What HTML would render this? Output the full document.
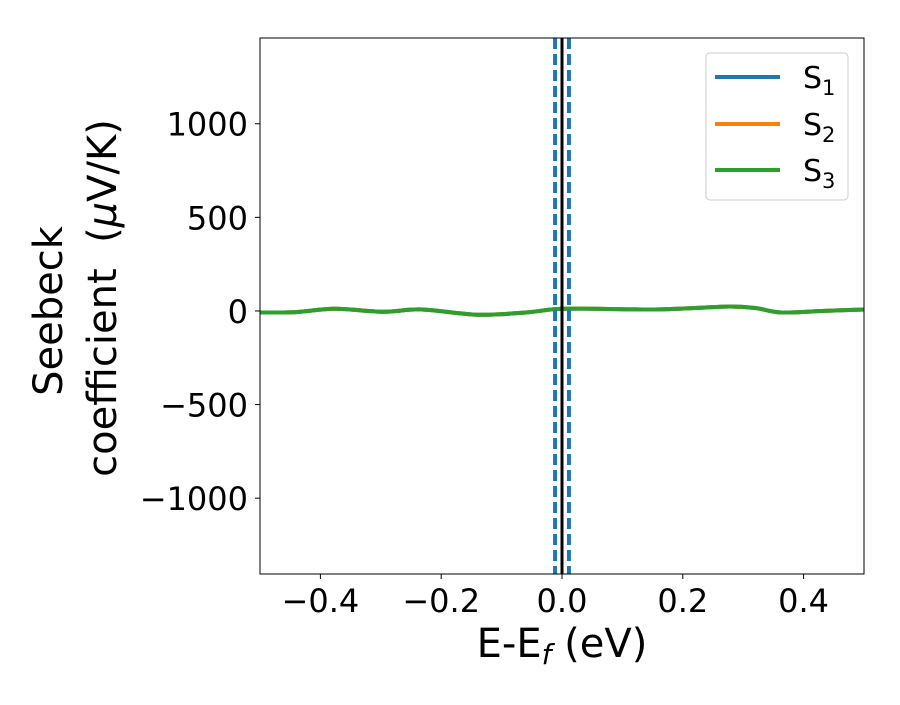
<!DOCTYPE html>
<html><head><meta charset="utf-8"><style>
body{margin:0;background:#fff;}
svg text{font-family:"DejaVu Sans","Liberation Sans",sans-serif;fill:#000;}
</style></head><body>
<svg width="900" height="700" viewBox="0 0 900 700">
<rect width="900" height="700" fill="#fff"/>
<g id="ticks"></g>
<g id="plot"></g>
<rect x="260" y="38" width="604" height="536" fill="none" stroke="#000" stroke-width="1"/>
<text x="562" y="657" font-size="40" text-anchor="middle">E-E<tspan font-style="italic" font-size="28" dy="7">f</tspan><tspan dy="-7"> (eV)</tspan></text>
<text transform="translate(62,311) rotate(-90)" font-size="40" text-anchor="middle">Seebeck</text>
<text transform="translate(116,298) rotate(-90)" font-size="40" text-anchor="middle">coefficient&#160; (<tspan font-style="italic">μ</tspan>V/K)</text>
<g>
<rect x="706" y="53" width="142" height="147" rx="4" fill="#fff" fill-opacity="0.8" stroke="#ccc" stroke-width="1"/>
<line x1="715" y1="77" x2="780" y2="77" stroke="#1f77b4" stroke-width="4"/>
<text x="803" y="88" font-size="30">S<tspan font-size="21" dy="7">1</tspan></text>
<line x1="715" y1="124" x2="780" y2="124" stroke="#ff7f0e" stroke-width="4"/>
<text x="803" y="135" font-size="30">S<tspan font-size="21" dy="7">2</tspan></text>
<line x1="715" y1="170" x2="780" y2="170" stroke="#2ca02c" stroke-width="4"/>
<text x="803" y="181" font-size="30">S<tspan font-size="21" dy="7">3</tspan></text>
</g>
</svg>
<script>
const energies=[-0.5,-0.44,-0.376,-0.297,-0.232,-0.14,-0.06,-0.01,0.05,0.147,0.22,0.278,0.32,0.363,0.43,0.5];
const s1=[-8,-6,12,-4,8,-20,-8,10,12,8,16,24,16,-8,0,8];
const s2=s1.slice();
const s3=s1.slice();
const xTicks=[-0.4,-0.2,0.0,0.2,0.4];
const xTickLabels=["−0.4","−0.2","0.0","0.2","0.4"];
const yTicks=[-1000,-500,0,500,1000];
const yTickLabels=["−1000","−500","0","500","1000"];
const vLines=[-0.0115,0.0115];
const X0=260,X1=864,Y0=574,Y1=38,xmin=-0.5,xmax=0.5,ymin=-1405,ymax=1458;
const xs=v=>X0+(v-xmin)/(xmax-xmin)*(X1-X0);
const ys=v=>Y0-(v-ymin)/(ymax-ymin)*(Y0-Y1);
const NS="http://www.w3.org/2000/svg";
const tk=document.getElementById('ticks'),pl=document.getElementById('plot');
function mk(tag,attrs,parent){const e=document.createElementNS(NS,tag);for(const k in attrs)e.setAttribute(k,attrs[k]);parent.appendChild(e);return e;}
xTicks.forEach((v,i)=>{
 const l=mk('line',{x1:xs(v),x2:xs(v),y1:Y0,y2:Y0+5,stroke:'#000'},tk);
 
 
 const t=mk('text',{x:xs(v),y:Y0+38,'font-size':'32','text-anchor':'middle'},tk);
 t.textContent=xTickLabels[i];
 
 
});
yTicks.forEach((v,i)=>{
 const l=mk('line',{x1:X0-5,x2:X0,y1:ys(v),y2:ys(v),stroke:'#000'},tk);
 
 
 const t=mk('text',{x:X0-12,y:ys(v)+12,'font-size':'32','text-anchor':'end'},tk);
 t.textContent=yTickLabels[i];
 
 
});
function smooth(xv,yv){const p=xv.map((x,i)=>[xs(x),ys(yv[i])]);let d=`M${p[0][0]},${p[0][1]}`;
 for(let i=0;i<p.length-1;i++){const a=p[i-1]||p[i],b=p[i],c=p[i+1],e=p[i+2]||c;
  d+=` C${b[0]+(c[0]-a[0])/6},${b[1]+(c[1]-a[1])/6} ${c[0]-(e[0]-b[0])/6},${c[1]-(e[1]-b[1])/6} ${c[0]},${c[1]}`;}return d;}
[[s1,'#1f77b4','series-s1'],[s2,'#ff7f0e','series-s2'],[s3,'#2ca02c','series-s3']].forEach(([s,c,n])=>{
 const p=mk('path',{d:smooth(energies,s),fill:'none',stroke:c,'stroke-width':'4'},pl);
 
 
});
vLines.forEach(v=>{
 const l=mk('line',{x1:xs(v),x2:xs(v),y1:Y1,y2:Y0,stroke:'#1f77b4','stroke-width':'4','stroke-dasharray':'11 5'},pl);
 
 
});
const z=mk('line',{x1:xs(0),x2:xs(0),y1:Y1,y2:Y0,stroke:'#000','stroke-width':'3'},pl);


</script>
</body></html>
